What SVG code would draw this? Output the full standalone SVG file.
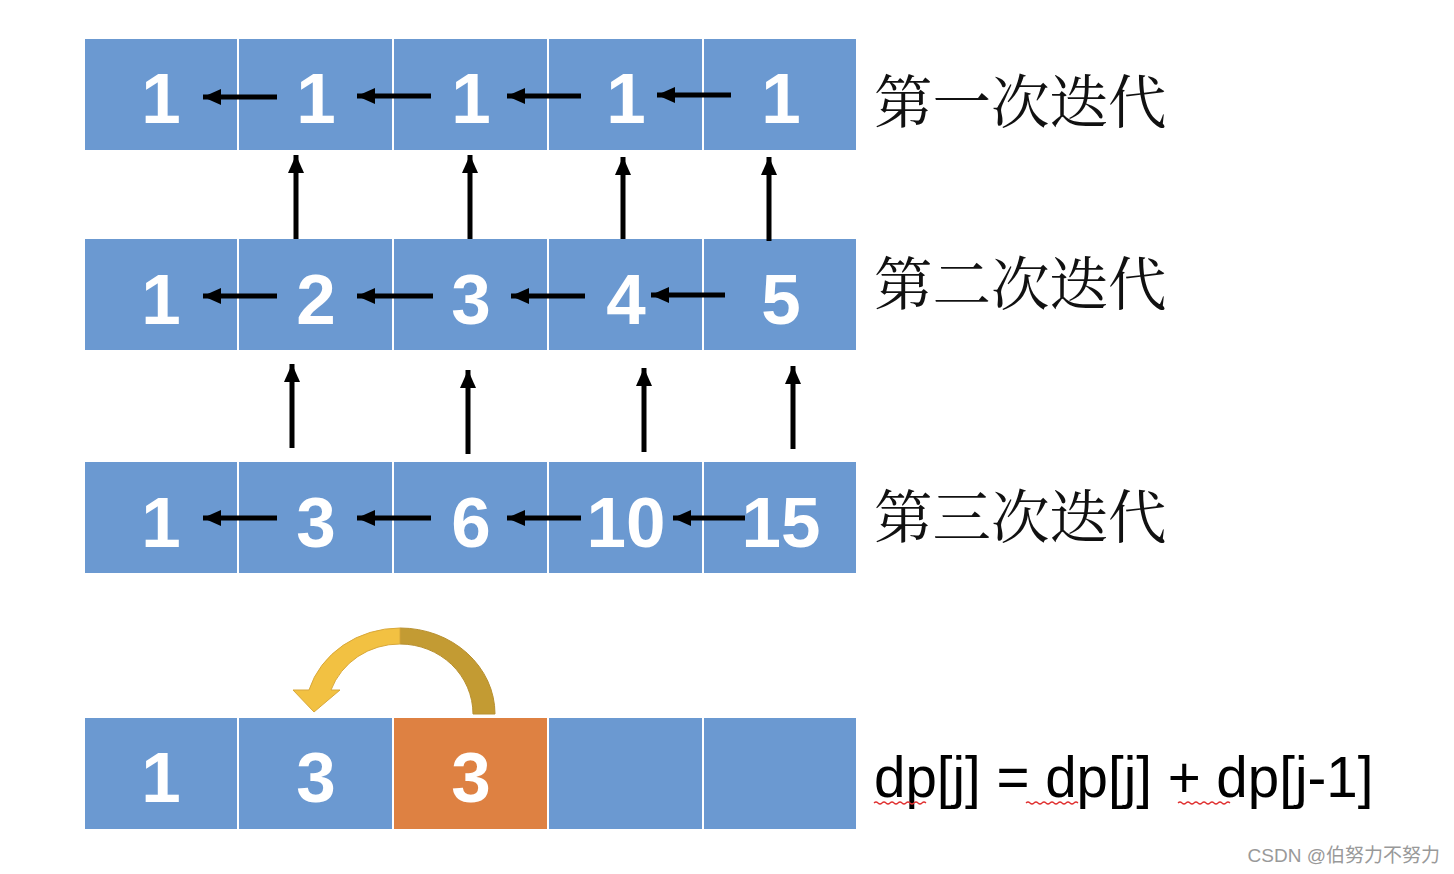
<svg xmlns="http://www.w3.org/2000/svg" width="1454" height="874" viewBox="0 0 1454 874">
<style>
.c{fill:#6B99D1;stroke:#fff;stroke-width:2}
.o{fill:#DE8142;stroke:#fff;stroke-width:2}
.n{font-family:"Liberation Sans",Arial,sans-serif;font-weight:bold;font-size:71px;fill:#fff;text-anchor:middle}
.z{font-family:"Noto Serif CJK SC","Noto Sans CJK SC",serif;font-size:58.5px;fill:#111}
.a{stroke:#000;stroke-width:5;fill:none;marker-end:url(#ah)}
.w{stroke:#E03030;stroke-width:1.2;fill:none}
</style>
<defs>
<marker id="ah" markerUnits="userSpaceOnUse" markerWidth="20" markerHeight="18" refX="18" refY="9" orient="auto">
<path d="M0,1 L18,9 L0,17 Z" fill="#000"/>
</marker>
</defs>
<rect width="1454" height="874" fill="#fff"/>
<g id="row1">
<rect class="c" x="84" y="38" width="154" height="113"/><rect class="c" x="238" y="38" width="155" height="113"/><rect class="c" x="393" y="38" width="155" height="113"/><rect class="c" x="548" y="38" width="155" height="113"/><rect class="c" x="703" y="38" width="154" height="113"/>
<text class="n" x="161" y="123">1</text><text class="n" x="316" y="123">1</text><text class="n" x="471" y="123">1</text><text class="n" x="626" y="123">1</text><text class="n" x="781" y="123">1</text>
</g>
<g id="row2">
<rect class="c" x="84" y="238" width="154" height="113"/><rect class="c" x="238" y="238" width="155" height="113"/><rect class="c" x="393" y="238" width="155" height="113"/><rect class="c" x="548" y="238" width="155" height="113"/><rect class="c" x="703" y="238" width="154" height="113"/>
<text class="n" x="161" y="324">1</text><text class="n" x="316" y="324">2</text><text class="n" x="471" y="324">3</text><text class="n" x="626" y="324">4</text><text class="n" x="781" y="324">5</text>
</g>
<g id="row3">
<rect class="c" x="84" y="461" width="154" height="113"/><rect class="c" x="238" y="461" width="155" height="113"/><rect class="c" x="393" y="461" width="155" height="113"/><rect class="c" x="548" y="461" width="155" height="113"/><rect class="c" x="703" y="461" width="154" height="113"/>
<text class="n" x="161" y="547">1</text><text class="n" x="316" y="547">3</text><text class="n" x="471" y="547">6</text><text class="n" x="626" y="547">10</text><text class="n" x="781" y="547">15</text>
</g>
<g id="row4">
<rect class="c" x="84" y="717" width="154" height="113"/><rect class="c" x="238" y="717" width="155" height="113"/><rect class="o" x="393" y="717" width="155" height="113"/><rect class="c" x="548" y="717" width="155" height="113"/><rect class="c" x="703" y="717" width="154" height="113"/>
<text class="n" x="161" y="802">1</text><text class="n" x="316" y="802">3</text><text class="n" x="471" y="802">3</text>
</g>
<g id="labels">
<text class="z" x="874" y="123">第一次迭代</text>
<text class="z" x="874" y="305">第二次迭代</text>
<text class="z" x="874" y="538">第三次迭代</text>
<text x="874" y="797" font-family="'Liberation Sans',Arial,sans-serif" font-size="56.5" fill="#000">dp[j] = dp[j] + dp[j-1]</text>
<path class="w" d="M874,803 q2,-2 4,0 t4,0 t4,0 t4,0 t4,0 t4,0 t4,0 t4,0 t4,0 t4,0 t4,0 t4,0 t4,0"/>
<path class="w" d="M1026,803 q2,-2 4,0 t4,0 t4,0 t4,0 t4,0 t4,0 t4,0 t4,0 t4,0 t4,0 t4,0 t4,0 t4,0"/>
<path class="w" d="M1178,803 q2,-2 4,0 t4,0 t4,0 t4,0 t4,0 t4,0 t4,0 t4,0 t4,0 t4,0 t4,0 t4,0 t4,0"/>
<text x="1440" y="862" text-anchor="end" font-family="'Liberation Sans','Noto Sans CJK SC',sans-serif" font-size="19" fill="#999">CSDN @伯努力不努力</text>
</g>
<g id="connectors">
<line class="a" x1="277" y1="97" x2="203" y2="97"/>
<line class="a" x1="431" y1="96" x2="357" y2="96"/>
<line class="a" x1="581" y1="96" x2="507" y2="96"/>
<line class="a" x1="731" y1="95" x2="657" y2="95"/>
<line class="a" x1="277" y1="296" x2="203" y2="296"/>
<line class="a" x1="433" y1="296" x2="357" y2="296"/>
<line class="a" x1="585" y1="296" x2="511" y2="296"/>
<line class="a" x1="725" y1="295" x2="651" y2="295"/>
<line class="a" x1="277" y1="518" x2="203" y2="518"/>
<line class="a" x1="431" y1="518" x2="357" y2="518"/>
<line class="a" x1="581" y1="518" x2="507" y2="518"/>
<line class="a" x1="745" y1="518" x2="673" y2="518"/>
<line class="a" x1="296" y1="239" x2="296" y2="155"/>
<line class="a" x1="470" y1="239" x2="470" y2="155"/>
<line class="a" x1="623" y1="239" x2="623" y2="157"/>
<line class="a" x1="769" y1="241" x2="769" y2="157"/>
<line class="a" x1="292" y1="448" x2="292" y2="364"/>
<line class="a" x1="468" y1="454" x2="468" y2="370"/>
<line class="a" x1="644" y1="452" x2="644" y2="368"/>
<line class="a" x1="793" y1="449" x2="793" y2="366"/>
<g id="curve">
<path d="M495,714 A95,86 0 0 0 400,628 L400,644 A73,70 0 0 1 473,714 Z" fill="#C39B33" stroke="#B89030" stroke-width="1"/>
<path d="M400,628 A95,86 0 0 0 309,690 L293,690 L314,712 L340,690 L331,690 A73,70 0 0 1 400,644 Z" fill="#F2C142" stroke="#D9A83A" stroke-width="1"/>
</g>
</g>
</svg>
